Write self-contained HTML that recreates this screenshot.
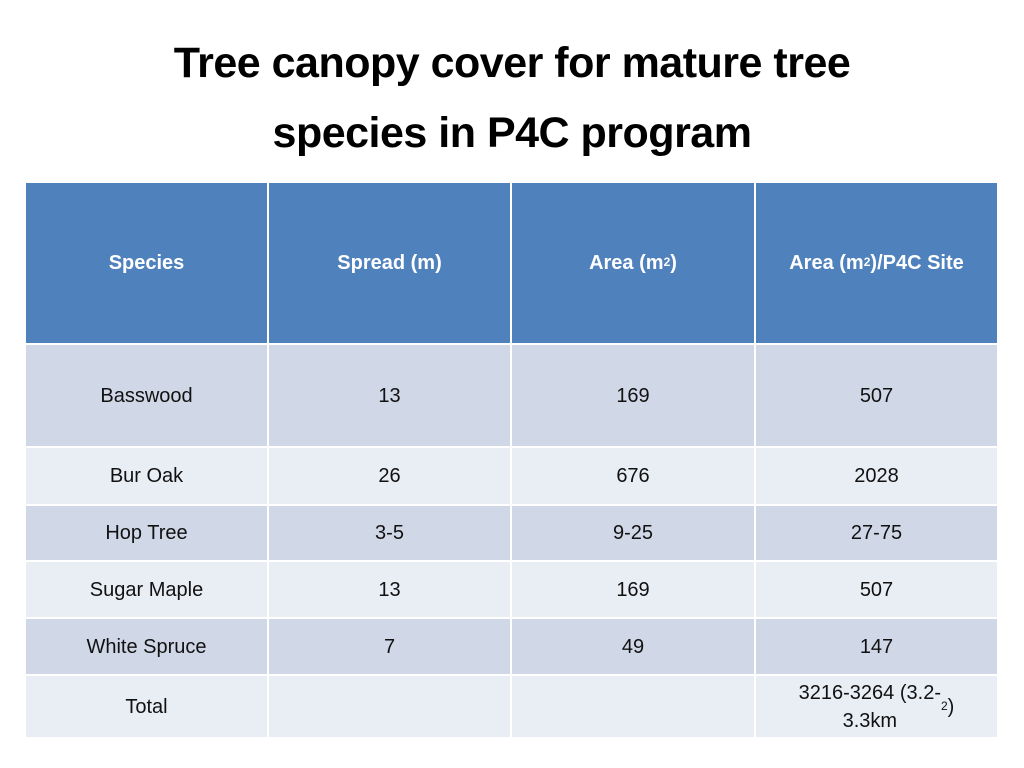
<!DOCTYPE html>
<html><head><meta charset="utf-8"><style>
body{margin:0;width:1024px;height:768px;background:#fff;position:relative;overflow:hidden;font-family:"Liberation Sans",sans-serif;}
.t{position:absolute;left:0;width:1024px;text-align:center;font-weight:bold;font-size:43px;color:#000;line-height:70px;letter-spacing:-0.5px}
.c{position:absolute;display:flex;align-items:center;justify-content:center;text-align:center;font-size:20px;color:#111;box-sizing:border-box;line-height:28px}
.h{background:#4F81BD;color:#fff;font-weight:bold}
.d{background:#D0D8E8}
.l{background:#E9EDF4}
</style></head><body>
<div class="t" style="top:28px">Tree canopy cover for mature tree</div>
<div class="t" style="top:98px">species in P4C program</div>
<div id="tbl"></div>
<script>
const colX=[26,269,512,756,997];
const rowY=[183,345,448,506,562,619,676,737];
const rows=[
 ["Species","Spread (m)","Area (m<sup>2</sup>)","Area (m<sup>2</sup>)/P4C Site"],
 ["Basswood","13","169","507"],
 ["Bur Oak","26","676","2028"],
 ["Hop Tree","3-5","9-25","27-75"],
 ["Sugar Maple","13","169","507"],
 ["White Spruce","7","49","147"],
 ["Total","","","3216-3264 (3.2-<br>3.3km<sup>2</sup>)"]
];
const tbl=document.getElementById('tbl');
rows.forEach((r,i)=>{r.forEach((txt,j)=>{
 const el=document.createElement('div');
 
 
 el.className='c '+(i===0?'h':(i%2===1?'d':'l'));
 const x=colX[j], w=colX[j+1]-x-(j<3?2:0);
 const y=rowY[i], h=rowY[i+1]-y-(i<6?2:0);
 el.style.left=x+'px';el.style.top=y+'px';el.style.width=w+'px';el.style.height=h+'px';
 el.innerHTML=txt;
 tbl.appendChild(el);
});});
</script>
<style>sup{font-size:12px;vertical-align:top;line-height:12px;position:relative;top:-1px}</style>
</body></html>
